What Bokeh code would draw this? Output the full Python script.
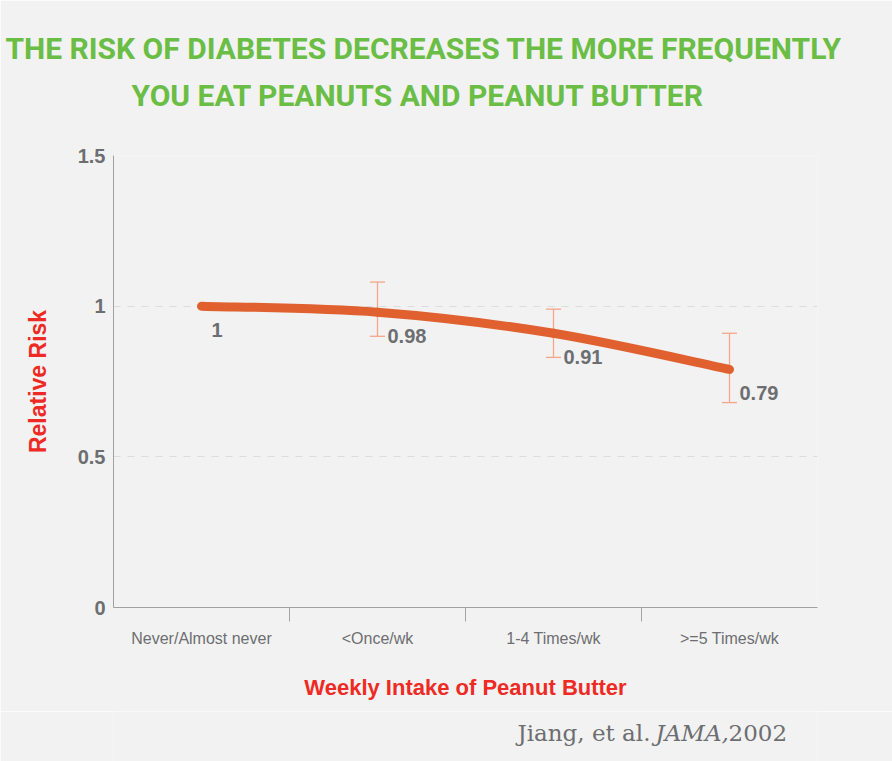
from bokeh.plotting import figure
from bokeh.layouts import column
from bokeh.models import Range1d, FixedTicker, ColumnDataSource, Whisker, TeeHead, LabelSet, Title
from bokeh.core.properties import value
from bokeh.embed import file_html
from bokeh.resources import INLINE

# ---- data ----
categories = ["Never/Almost never", "<Once/wk", "1-4 Times/wk", ">=5 Times/wk"]
relative_risk = [1.00, 0.98, 0.91, 0.79]
ci_lower = [None, 0.90, 0.83, 0.68]
ci_upper = [None, 1.08, 0.99, 0.91]
y_ticks = [0, 0.5, 1, 1.5]
y_tick_labels = ["0", "0.5", "1", "1.5"]
title_lines = ["THE RISK OF DIABETES DECREASES THE MORE FREQUENTLY",
               "YOU EAT PEANUTS AND PEANUT BUTTER"]
x_title = "Weekly Intake of Peanut Butter"
y_title = "Relative Risk"
citation_parts = ["Jiang, et al.", "JAMA,", "2002"]

# ---- styles ----
BG = "#f2f2f2"
GREEN = "#6abd45"
RED = "#ee2a24"
GREY = "#6d6e71"
LINE = "#e0612f"
WHISK = "#f5a688"
SANS = "Liberation Sans"
FRAME_LEFT = 113
FRAME_RIGHT = 817
W = 892
H_MAIN = 711
H_FOOT = 50

n = len(categories)
xs = [i + 0.5 for i in range(n)]

p = figure(width=W, height=H_MAIN, x_range=Range1d(0, n), y_range=Range1d(0, 1.5),
           output_backend="svg", toolbar_location=None,
           min_border_left=FRAME_LEFT, min_border_right=W - FRAME_RIGHT, min_border_top=155,
           min_border_bottom=H_MAIN - 607,
           background_fill_color=BG, border_fill_color=BG, outline_line_color=None)
p.title.text = ""

# x axis
p.xaxis.ticker = FixedTicker(ticks=xs, minor_ticks=list(range(1, n)))
p.xaxis.major_label_overrides = {x: c for x, c in zip(xs, categories)}
p.xaxis.major_tick_line_color = None
p.xaxis.major_tick_out = 0
p.xaxis.major_tick_in = 0
p.xaxis.minor_tick_in = 0
p.xaxis.minor_tick_out = 14
p.xaxis.minor_tick_line_color = "#a5a5a5"
p.xaxis.axis_line_color = "#a0a0a0"
p.xaxis.major_label_standoff = 8
p.xaxis.major_label_text_font = SANS
p.xaxis.major_label_text_font_size = "16px"
p.xaxis.major_label_text_color = GREY
p.xaxis.axis_label = x_title
p.xaxis.axis_label_standoff = 25
p.xaxis.axis_label_text_font = SANS
p.xaxis.axis_label_text_font_style = "bold"
p.xaxis.axis_label_text_font_size = "22px"
p.xaxis.axis_label_text_color = RED

# y axis
p.yaxis.ticker = FixedTicker(ticks=y_ticks)
p.yaxis.major_label_overrides = {t: s for t, s in zip(y_ticks, y_tick_labels)}
p.yaxis.major_tick_line_color = None
p.yaxis.major_tick_out = 0
p.yaxis.major_tick_in = 0
p.yaxis.minor_tick_line_color = None
p.yaxis.axis_line_color = "#a0a0a0"
p.yaxis.major_label_standoff = 8
p.yaxis.major_label_text_font = SANS
p.yaxis.major_label_text_font_style = "bold"
p.yaxis.major_label_text_font_size = "20px"
p.yaxis.major_label_text_color = GREY
p.yaxis.axis_label = y_title
p.yaxis.axis_label_standoff = 24
p.yaxis.axis_label_text_font = SANS
p.yaxis.axis_label_text_font_style = "bold"
p.yaxis.axis_label_text_font_size = "23px"
p.yaxis.axis_label_text_color = RED

# grid
p.xgrid.visible = False
p.ygrid.ticker = FixedTicker(ticks=[t for t in y_ticks if 0 < t < max(y_ticks)])
p.ygrid.grid_line_color = "#dcdcdc"
p.ygrid.grid_line_dash = "7 7"

# error bars
idx = [i for i in range(n) if ci_lower[i] is not None]
wsrc = ColumnDataSource(dict(x=[xs[i] for i in idx],
                             lo=[ci_lower[i] for i in idx],
                             hi=[ci_upper[i] for i in idx]))
wh = Whisker(source=wsrc, base="x", lower="lo", upper="hi", dimension="height",
             line_color=WHISK, line_width=1.3, level="underlay",
             upper_head=TeeHead(size=15, line_color=WHISK, line_width=1.3),
             lower_head=TeeHead(size=15, line_color=WHISK, line_width=1.3))
p.add_layout(wh)

# smooth curve (Catmull-Rom -> bezier)
def pt(i):
    i = min(max(i, 0), n - 1)
    return xs[i], relative_risk[i]

seg = dict(x0=[], y0=[], x1=[], y1=[], cx0=[], cy0=[], cx1=[], cy1=[])
for i in range(n - 1):
    xa, ya = pt(i); xb, yb = pt(i + 1); xp, yp = pt(i - 1); xn, yn = pt(i + 2)
    seg["x0"].append(xa); seg["y0"].append(ya)
    seg["x1"].append(xb); seg["y1"].append(yb)
    seg["cx0"].append(xa + (xb - xp) / 6); seg["cy0"].append(ya + (yb - yp) / 6)
    seg["cx1"].append(xb - (xn - xa) / 6); seg["cy1"].append(yb - (yn - ya) / 6)
p.bezier(x0="x0", y0="y0", x1="x1", y1="y1", cx0="cx0", cy0="cy0", cx1="cx1", cy1="cy1",
         source=ColumnDataSource(seg), line_color=LINE, line_width=9, line_cap="round")

# value labels
lsrc = ColumnDataSource(dict(x=xs, y=relative_risk, t=[f"{v:g}" for v in relative_risk]))
p.add_layout(LabelSet(x="x", y="y", text="t", source=lsrc, x_offset=10, y_offset=-24,
                      text_align="left", text_baseline="middle",
                      text_font=value(SANS), text_font_style="bold",
                      text_font_size="20px", text_color=GREY))

# title: spacer + two lines stacked above the frame
title_style = dict(align="left", text_font="Roboto", text_font_style="bold",
                   text_font_size="30px", text_color=GREEN)
p.add_layout(Title(text=" ", text_font_size="10px", standoff=28), "above")
p.add_layout(Title(text=title_lines[1], offset=131 - FRAME_LEFT, standoff=4, **title_style), "above")
p.add_layout(Title(text=title_lines[0], offset=5 - FRAME_LEFT, standoff=16, **title_style), "above")

# footer with the citation (its frame is aligned with the main frame by the column layout)
f = figure(title=None, frame_width=FRAME_RIGHT - FRAME_LEFT, frame_height=H_FOOT,
           x_range=Range1d(FRAME_LEFT, FRAME_RIGHT), y_range=Range1d(0, H_FOOT),
           output_backend="svg", toolbar_location=None,
           min_border_left=FRAME_LEFT, min_border_right=W - FRAME_RIGHT,
           min_border_top=0, min_border_bottom=0,
           x_axis_location=None, y_axis_location=None,
           background_fill_color=BG, border_fill_color=BG, outline_line_color=None)
f.grid.visible = False
for part, fx, style in zip(citation_parts, [517, 655, 728], ["normal", "italic", "normal"]):
    f.text(x=[fx], y=[29], text=[part], text_align="left", text_baseline="alphabetic",
           text_font=value("DejaVu Serif"), text_font_style=style,
           text_font_size="23px", text_color=GREY)

layout = column(p, f, spacing=0)
open("out.html", "w").write(file_html(layout, INLINE))
